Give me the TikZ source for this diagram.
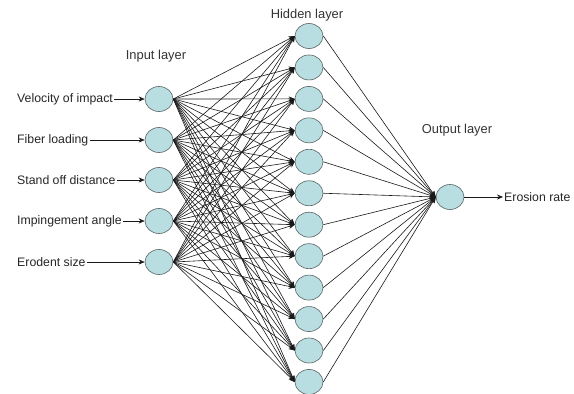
\documentclass[tikz,border=0pt]{standalone}
\usepackage{fontspec}
\setmainfont{Liberation Sans}
\usetikzlibrary{shapes.geometric,arrows.meta}
\definecolor{neuronfill}{RGB}{184,222,226}
\definecolor{neuronedge}{RGB}{90,100,100}
\begin{document}
\begin{tikzpicture}[x=1pt,y=-1pt,
  neuron/.style={ellipse,draw=neuronedge,fill=neuronfill,line width=0.6pt,minimum width=28pt,minimum height=25pt,inner sep=0pt},
  lbl/.style={font=\fontsize{12.3}{13}\selectfont,inner sep=1pt,text=black!85},
  title/.style={font=\fontsize{12.9}{14}\selectfont,inner sep=1pt,text=black!80},
  conn/.style={line width=0.6pt,draw=black!90,-{Stealth[length=6pt,width=5pt]}}]
\useasboundingbox (0,0) rectangle (574,394);
% input layer
\foreach \i/\y in {1/99,2/140,3/180,4/221,5/262}
  \node[neuron] (in\i) at (159,\y) {};
% hidden layer
\foreach \i in {1,...,12}
  \node[neuron] (h\i) at (309,{36+31.45*(\i-1)}) {};
% output
\node[neuron] (out) at (450,197) {};
% titles
\node[title] (tin) at (156,56) {Input layer};
\node[title] (thid) at (307,15) {Hidden layer};
\node[title] (tout) at (457,130) {Output layer};
% input labels
\node[lbl,anchor=west] (l1) at (16,99) {Velocity of impact};
\node[lbl,anchor=west] (l2) at (16,140) {Fiber loading};
\node[lbl,anchor=west] (l3) at (16,180) {Stand off distance};
\node[lbl,anchor=west] (l4) at (16,221) {Impingement angle};
\node[lbl,anchor=west] (l5) at (16,262) {Erodent size};
\node[lbl,anchor=west] (er) at (503,197) {Erosion rate};
\foreach \i in {1,...,5}
  \draw[conn] (l\i.east) -- (in\i.west);
% connections
\foreach \i in {1,...,5}
  \foreach \j in {1,...,12}
    \draw[conn] (in\i.east) -- (h\j.west);
\foreach \j in {1,...,12}
  \draw[conn] (h\j.east) -- (out.west);
\draw[conn] (out.east) -- (er.west);
\end{tikzpicture}
\end{document}
